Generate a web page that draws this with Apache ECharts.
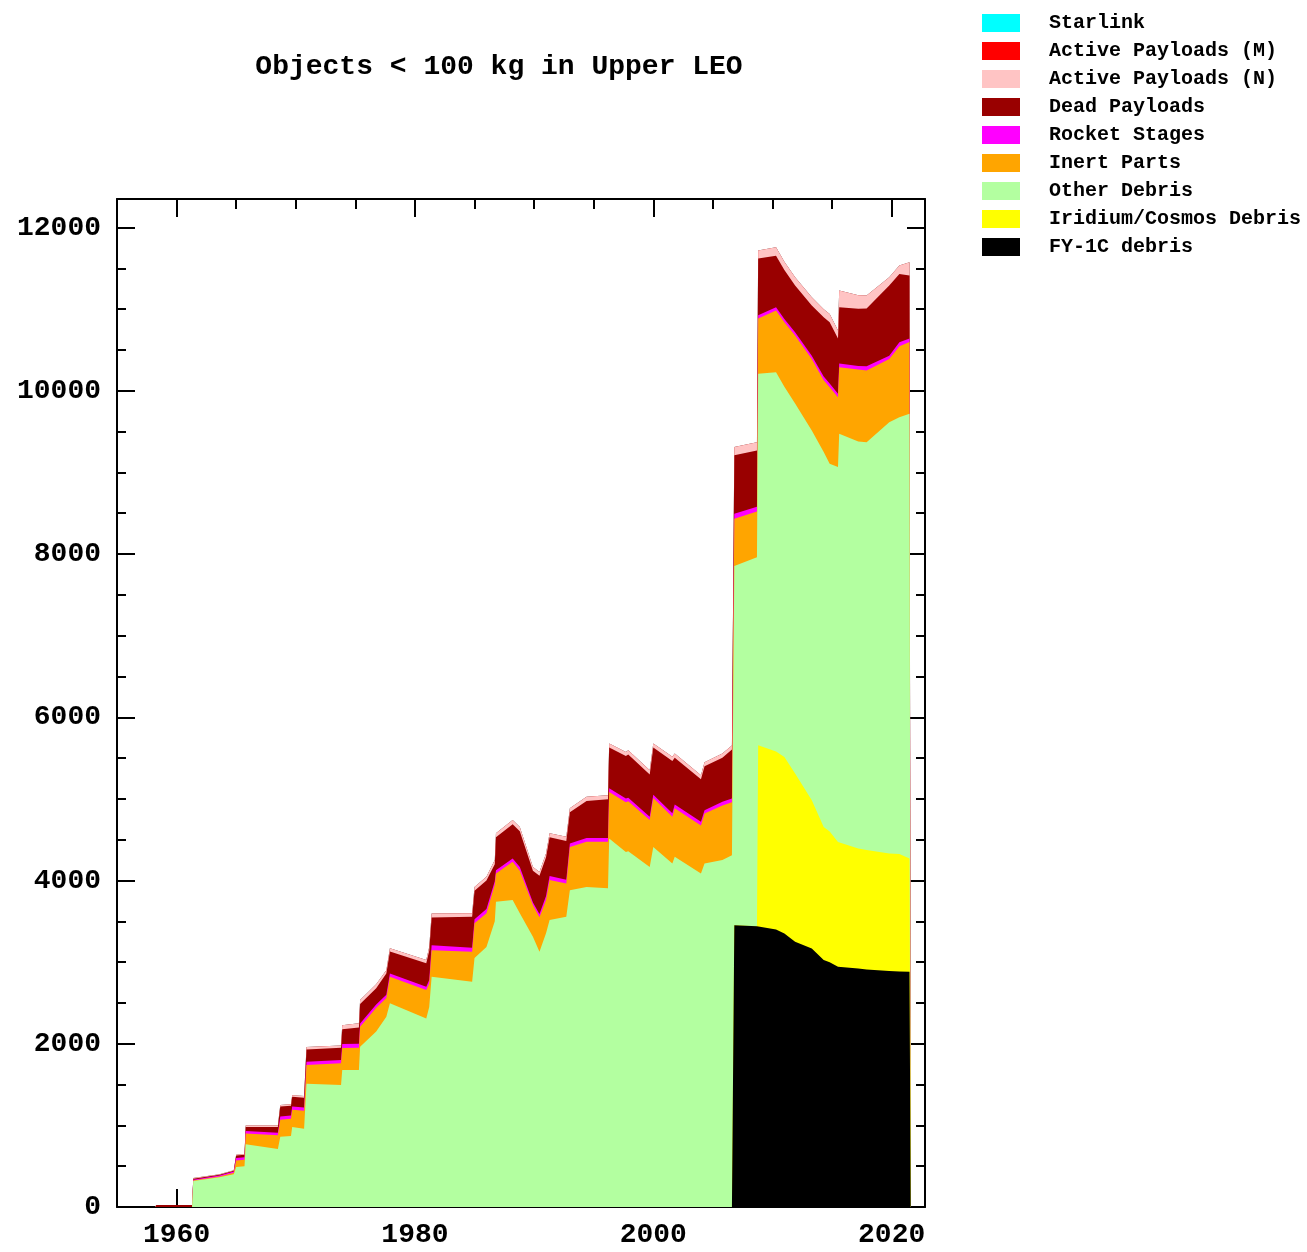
<!DOCTYPE html>
<html>
<head>
<meta charset="utf-8">
<title>Objects &lt; 100 kg in Upper LEO</title>
<script src="https://cdn.jsdelivr.net/npm/echarts@6/dist/echarts.min.js"></script>
<style>
html, body { margin: 0; padding: 0; background: #fff; }
#chart { width: 1307px; height: 1252px; }
</style>
</head>
<body>
<div id="chart"></div>
<script>
// sample times (years); pairs of close values mark the vertical jumps
var years = [1955.0, 1958.2, 1958.3, 1961.3, 1961.4, 1963.6, 1964.8, 1965.0, 1965.7, 1965.8,
    1968.5, 1968.7, 1969.6, 1969.7, 1970.7, 1970.9, 1973.8, 1973.9, 1975.3, 1975.4,
    1976.75, 1977.6, 1977.9, 1980.95, 1981.2, 1981.4, 1984.8, 1985.0, 1986.0, 1986.7,
    1986.8, 1988.2, 1988.8, 1989.9, 1990.45, 1991.0, 1991.3, 1992.7, 1993.0, 1994.4,
    1996.2, 1996.3, 1997.7, 1997.9, 1999.7, 2000.0, 2001.6, 2001.8, 2004.0, 2004.3,
    2005.8, 2006.6, 2006.8, 2008.7, 2008.8, 2010.3, 2011.0, 2011.9, 2013.3, 2014.3,
    2014.8, 2015.5, 2015.6, 2017.2, 2017.9, 2019.8, 2020.65, 2021.5, 2021.6];

var fy1c = [0, 0, 0, 0, 0, 0, 0, 0, 0, 0,
    0, 0, 0, 0, 0, 0, 0, 0, 0, 0,
    0, 0, 0, 0, 0, 0, 0, 0, 0, 0,
    0, 0, 0, 0, 0, 0, 0, 0, 0, 0,
    0, 0, 0, 0, 0, 0, 0, 0, 0, 0,
    0, 0, 3453, 3440, 3440, 3400, 3350, 3250, 3167, 3025,
    3000, 2943, 2940, 2922, 2910, 2890, 2885, 2881, 2881];

var iridium = [0, 0, 0, 0, 0, 0, 0, 0, 0, 0,
    0, 0, 0, 0, 0, 0, 0, 0, 0, 0,
    0, 0, 0, 0, 0, 0, 0, 0, 0, 0,
    0, 0, 0, 0, 0, 0, 0, 0, 0, 0,
    0, 0, 0, 0, 0, 0, 0, 0, 0, 0,
    0, 0, 0, 0, 2217, 2180, 2164, 2060, 1816, 1631,
    1600, 1530, 1530, 1470, 1465, 1441, 1440, 1389, 1389];

var otherDebris = [0, 0, 0, 0, 320, 365, 400, 490, 500, 770,
    710, 860, 870, 980, 960, 1510, 1494, 1677, 1680, 1963,
    2150, 2330, 2497, 2310, 2450, 2820, 2760, 3050, 3187, 3500,
    3740, 3760, 3600, 3310, 3126, 3355, 3515, 3555, 3880, 3920,
    3905, 4515, 4350, 4360, 4165, 4410, 4210, 4290, 4085, 4210,
    4250, 4310, 4400, 4520, 4553, 4648, 4536, 4535, 4531, 4594,
    4506, 4592, 5003, 4988, 4995, 5284, 5352, 5448, 5448];

var inertParts = [0, 0, 0, 0, 5, 10, 20, 80, 80, 130,
    170, 210, 210, 210, 220, 230, 266, 270, 270, 244,
    290, 230, 323, 350, 290, 327, 366, 425, 413, 450,
    345, 470, 520, 390, 424, 405, 490, 410, 530, 555,
    570, 570, 610, 610, 575, 600, 570, 595, 590, 610,
    670, 650, 580, 560, 675, 755, 790, 832, 876, 880,
    939, 855, 817, 880, 880, 775, 870, 880, 880];

var rocketStages = [0, 0, 0, 0, 10, 10, 15, 30, 30, 30,
    30, 40, 40, 40, 40, 40, 40, 50, 50, 40,
    40, 40, 40, 40, 40, 60, 50, 50, 50, 40,
    40, 40, 45, 30, 40, 50, 50, 45, 45, 45,
    45, 45, 45, 45, 40, 40, 45, 45, 45, 40,
    45, 45, 60, 60, 40, 40, 40, 40, 40, 45,
    45, 45, 45, 45, 50, 40, 48, 42, 42];

var deadPayloads = [0, 0, 25, 25, 10, 10, 10, 30, 30, 50,
    70, 120, 120, 120, 120, 150, 150, 180, 200, 240,
    200, 260, 270, 285, 360, 340, 380, 350, 350, 210,
    405, 420, 440, 390, 470, 475, 475, 475, 380, 455,
    475, 500, 520, 530, 520, 580, 640, 575, 520, 540,
    540, 600, 717, 690, 695, 633, 600, 573, 615, 725,
    750, 675, 688, 700, 707, 860, 837, 772, 772];

var activeN = [0, 0, 0, 0, 10, 5, 5, 10, 10, 20,
    20, 20, 20, 20, 20, 30, 30, 50, 50, 50,
    50, 40, 40, 40, 45, 50, 44, 45, 45, 50,
    50, 50, 50, 45, 45, 45, 50, 50, 50, 50,
    50, 50, 50, 50, 50, 50, 50, 50, 50, 50,
    50, 50, 100, 100, 98, 102, 100, 100, 100, 100,
    100, 100, 205, 165, 160, 100, 102, 163, 163];

var activeM = [0, 0, 0, 0, 0, 0, 0, 0, 0, 0,
    0, 0, 0, 0, 0, 0, 0, 0, 0, 0,
    0, 0, 0, 0, 0, 0, 0, 0, 0, 0,
    0, 0, 0, 0, 0, 0, 0, 0, 0, 0,
    0, 0, 0, 0, 0, 0, 0, 0, 0, 0,
    0, 0, 0, 0, 0, 0, 0, 0, 0, 0,
    0, 0, 0, 0, 0, 0, 0, 0, 0];

var starlink = [0, 0, 0, 0, 0, 0, 0, 0, 0, 0,
    0, 0, 0, 0, 0, 0, 0, 0, 0, 0,
    0, 0, 0, 0, 0, 0, 0, 0, 0, 0,
    0, 0, 0, 0, 0, 0, 0, 0, 0, 0,
    0, 0, 0, 0, 0, 0, 0, 0, 0, 0,
    0, 0, 0, 0, 0, 0, 0, 0, 0, 0,
    0, 0, 0, 0, 0, 0, 0, 0, 0];

var xLabelTicks = [1960, 1980, 2000, 2020];
var xMinorTicks = [1960, 1965, 1970, 1975, 1980, 1985, 1990, 1995, 2000, 2005, 2010, 2015, 2020];
var yLabelTicks = [0, 2000, 4000, 6000, 8000, 10000, 12000];
var yMinorTicks = [0, 500, 1000, 1500, 2000, 2500, 3000, 3500, 4000, 4500, 5000, 5500, 6000,
    6500, 7000, 7500, 8000, 8500, 9000, 9500, 10000, 10500, 11000, 11500, 12000];

// stacking order, bottom first
var layers = [
    {name: 'FY-1C debris', color: '#000000', values: fy1c},
    {name: 'Iridium/Cosmos Debris', color: '#ffff00', values: iridium},
    {name: 'Other Debris', color: '#b3ffa0', values: otherDebris},
    {name: 'Inert Parts', color: '#ffa500', values: inertParts},
    {name: 'Rocket Stages', color: '#ff00ff', values: rocketStages},
    {name: 'Dead Payloads', color: '#990000', values: deadPayloads},
    {name: 'Active Payloads (N)', color: '#ffc4c4', values: activeN},
    {name: 'Active Payloads (M)', color: '#ff0000', values: activeM},
    {name: 'Starlink', color: '#00ffff', values: starlink}
];

var FONT = "'Liberation Mono', 'DejaVu Sans Mono', monospace";

var running = years.map(function () { return 0; });
var series = layers.map(function (layer) {
    var pts = years.map(function (yr, j) {
        running[j] += layer.values[j];
        return [yr, running[j]];
    });
    return {
        name: layer.name,
        type: 'line',
        data: pts,
        color: layer.color,
        symbol: 'none',
        showSymbol: false,
        lineStyle: {width: 0},
        areaStyle: {color: layer.color, opacity: 1},
        xAxisIndex: 0,
        yAxisIndex: 0,
        silent: true
    };
}).reverse();   // top of the stack drawn first, lower layers cover it

function plain(v) { return String(v); }

function xAxis(pos, ticks, len, labels, showLine) {
    return {
        type: 'value', position: pos, min: 1955, max: 2022.8,
        axisLine: {show: showLine, onZero: false, lineStyle: {color: '#000', width: 2}},
        axisTick: {show: true, inside: true, length: len, customValues: ticks,
            lineStyle: {color: '#000', width: 2}},
        axisLabel: {show: labels, customValues: ticks, margin: 14, color: '#000',
            formatter: plain, fontFamily: FONT, fontWeight: 'bold', fontSize: 28},
        splitLine: {show: false}
    };
}
function yAxis(pos, ticks, len, labels, showLine) {
    return {
        type: 'value', position: pos, min: 0, max: 12350,
        axisLine: {show: showLine, onZero: false, lineStyle: {color: '#000', width: 2}},
        axisTick: {show: true, inside: true, length: len, customValues: ticks,
            lineStyle: {color: '#000', width: 2}},
        axisLabel: {show: labels, customValues: ticks, margin: 16, color: '#000',
            formatter: plain, fontFamily: FONT, fontWeight: 'bold', fontSize: 28},
        splitLine: {show: false}
    };
}

var chart = echarts.init(document.getElementById('chart'));
chart.setOption({
    animation: false,
    backgroundColor: '#ffffff',
    title: {
        text: 'Objects < 100 kg in Upper LEO',
        left: 494, top: 48, textAlign: 'center',
        textStyle: {fontFamily: FONT, fontWeight: 'bold', fontSize: 28, color: '#000'}
    },
    legend: {
        orient: 'vertical', left: 982, top: 13, padding: 0,
        itemWidth: 38, itemHeight: 18, itemGap: 8,
        icon: 'rect',
        data: layers.map(function (l) { return l.name; }).reverse(),
        textStyle: {fontFamily: FONT, fontWeight: 'bold', fontSize: 20, color: '#000',
            padding: [0, 0, 0, 24]},
        selectedMode: false
    },
    grid: {left: 117, right: 382, top: 199, bottom: 45, containLabel: false},
    xAxis: [
        xAxis('bottom', xLabelTicks, 18, true, true),
        xAxis('bottom', xMinorTicks, 10, false, false),
        xAxis('top', xLabelTicks, 18, false, true),
        xAxis('top', xMinorTicks, 10, false, false)
    ],
    yAxis: [
        yAxis('left', yLabelTicks, 18, true, true),
        yAxis('left', yMinorTicks, 9, false, false),
        yAxis('right', yLabelTicks, 18, false, true),
        yAxis('right', yMinorTicks, 9, false, false)
    ],
    series: series
});
</script>
</body>
</html>
